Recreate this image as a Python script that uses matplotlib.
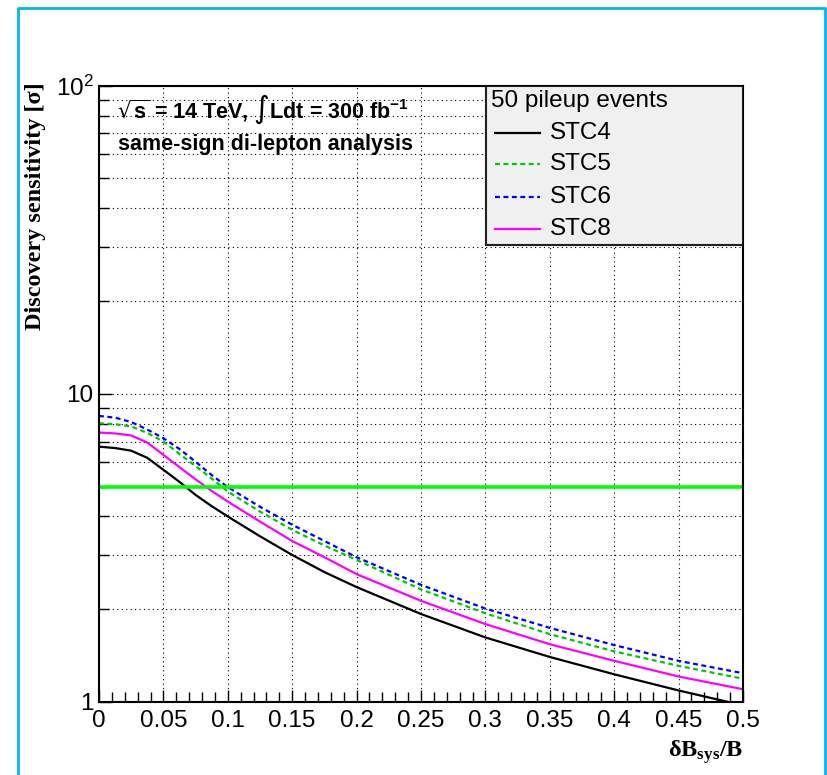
import matplotlib
matplotlib.use('Agg')
import matplotlib.pyplot as plt
from matplotlib.lines import Line2D
from matplotlib.patches import Rectangle
from matplotlib.ticker import LogLocator, MultipleLocator, NullFormatter

# values
dB = [0.0, 0.0125, 0.025, 0.0375, 0.05, 0.0625, 0.075, 0.0875, 0.1, 0.125,
      0.15, 0.175, 0.2, 0.25, 0.3, 0.35, 0.4, 0.45, 0.5]
stc4 = [6.74, 6.67, 6.54, 6.2, 5.67, 5.18, 4.70, 4.32, 4.0, 3.45,
        3.0, 2.64, 2.36, 1.93, 1.62, 1.40, 1.23, 1.09, 0.975]
stc5 = [8.03, 7.97, 7.84, 7.47, 7.0, 6.38, 5.83, 5.31, 4.82, 4.15,
        3.62, 3.22, 2.89, 2.32, 1.94, 1.66, 1.46, 1.31, 1.19]
stc6 = [8.48, 8.37, 8.1, 7.66, 7.18, 6.62, 6.02, 5.45, 4.98, 4.3,
        3.76, 3.33, 2.95, 2.40, 2.01, 1.74, 1.53, 1.36, 1.24]
stc8 = [7.49, 7.44, 7.33, 6.95, 6.34, 5.78, 5.28, 4.84, 4.47, 3.85,
        3.33, 2.95, 2.60, 2.13, 1.79, 1.54, 1.36, 1.21, 1.10]
discovery = 5.0

series = ['STC4', 'STC5', 'STC6', 'STC8']
values = [stc4, stc5, stc6, stc8]
colors = ['black', '#00c800', '#0000ff', '#ff00ff']
styles = ['-', (0, (2.2, 1.6)), (0, (2.2, 1.6)), '-']

sans = 'Liberation Sans'
serif = 'Liberation Serif'

fig = plt.figure(figsize=(8.27, 7.75), dpi=100)
ax = fig.add_axes([0.1197, 0.0942, 0.7787, 0.7952])

for name, vals, c, ls in zip(series, values, colors, styles):
    ax.plot(dB, vals, color=c, linestyle=ls, lw=1.6, label=name)
ax.axhline(discovery, color='#00ff00', lw=2.6)

ax.set_yscale('log')
ax.set_xlim(0, 0.5)
ax.set_ylim(1, 100)

ax.xaxis.set_minor_locator(MultipleLocator(0.01))
ax.set_xticks([0, 0.05, 0.1, 0.15, 0.2, 0.25, 0.3, 0.35, 0.4, 0.45, 0.5],
              labels=['0', '0.05', '0.1', '0.15', '0.2', '0.25', '0.3', '0.35', '0.4', '0.45', '0.5'])
ax.set_yticks([1, 10, 100], labels=['1', '10', r'$\mathregular{10^{2}}$'])
ax.yaxis.set_minor_locator(LogLocator(base=10, subs=range(2, 10)))
ax.yaxis.set_minor_formatter(NullFormatter())

ax.tick_params(which='both', direction='in', top=False, right=False)
ax.tick_params(which='major', length=9, width=1)
ax.tick_params(which='minor', length=7, width=1)
ax.tick_params(axis='x', pad=6)
ax.tick_params(axis='y', pad=4)
for lab in ax.get_xticklabels() + ax.get_yticklabels():
    lab.set_fontfamily(sans)
    lab.set_fontsize(17.5)

ax.grid(which='both', axis='y', color='black', linestyle=(0, (1, 3)), lw=0.8)
ax.grid(which='major', axis='x', color='black', linestyle=(0, (1, 3)), lw=0.8)
for s in ax.spines.values():
    s.set_linewidth(1.5)

# axis titles
ax.text(-0.099, 1.005, 'Discovery sensitivity [σ]', transform=ax.transAxes, rotation=90,
        ha='center', va='top', fontfamily=serif, fontweight='bold', fontsize=17.5)
ax.text(1.0, -0.081, r'$\mathregular{δB_{sys}/B}$', transform=ax.transAxes,
        ha='right', va='center', fontfamily=serif, fontweight='bold', fontsize=17.5)

# labels inside the frame
ax.text(0.028, 0.961, r'$\sqrt{\mathregular{s}}$ = 14 TeV, ∫Ldt = 300 fb$\mathregular{^{-1}}$',
        transform=ax.transAxes, ha='left', va='center', fontfamily=sans, fontweight='bold',
        fontsize=15.5)
ax.text(0.029, 0.904, 'same-sign di-lepton analysis', transform=ax.transAxes,
        ha='left', va='center', fontfamily=sans, fontweight='bold', fontsize=15.5)

# legend box
ax.add_patch(Rectangle((0.601, 0.742), 0.399, 0.258, transform=ax.transAxes,
                       facecolor='#f0f0f0', edgecolor='#222222', lw=1.5, zorder=5))
ax.text(0.609, 0.9745, '50 pileup events', transform=ax.transAxes, ha='left', va='center',
        fontfamily=sans, fontsize=17.5, zorder=6)
rows = [0.924, 0.873, 0.820, 0.767]
for name, c, ls, y in zip(series, colors, styles, rows):
    ax.add_line(Line2D([0.615, 0.685], [y, y], transform=ax.transAxes, color=c,
                       linestyle=ls, lw=1.6, zorder=6))
    ax.text(0.700, y, name, transform=ax.transAxes, ha='left', va='center',
            fontfamily=sans, fontsize=17.5, zorder=6)

# cyan outer frame
fx = [18 / 827, 18 / 827, 825 / 827, 825 / 827]
fy = [-0.01, 767 / 775, 767 / 775, -0.01]
fig.add_artist(Line2D(fx, fy, transform=fig.transFigure, color='#00b8eb', lw=2))

fig.savefig('out.png', dpi=100)
